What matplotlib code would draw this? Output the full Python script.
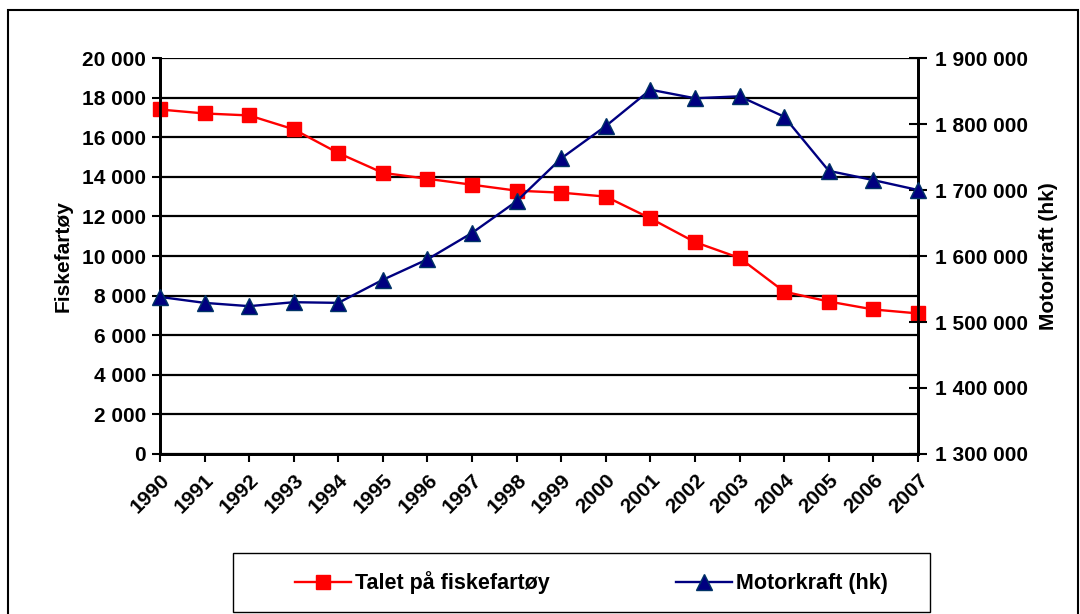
"""Fiskefartøy og motorkraft, 1990-2007."""
import matplotlib

matplotlib.use("Agg")
import matplotlib.pyplot as plt
from matplotlib.patches import Rectangle
from matplotlib.ticker import FuncFormatter, MultipleLocator

years = [str(y) for y in range(1990, 2008)]
vessels = [17400, 17200, 17100, 16400, 15200, 14200, 13900, 13600, 13300,
           13200, 13000, 11900, 10700, 9900, 8200, 7700, 7300, 7100]
horsepower = [1538000, 1529000, 1524000, 1530000, 1529000, 1564000, 1595000,
              1635000, 1683000, 1748000, 1797000, 1852000, 1839000, 1842000,
              1811000, 1729000, 1715000, 1700000]

FS = 15

plt.rcParams.update({
    "font.family": ["Liberation Sans", "DejaVu Sans"],
    "font.weight": "bold",
    "font.size": FS,
})


def space_thousands(v, _pos):
    return f"{int(round(v)):,}".replace(",", " ")


fig = plt.figure(figsize=(10.8, 6.14), dpi=100)
ax = fig.add_axes([0.1481, 0.2606, 0.7019, 0.6449])
ax2 = ax.twinx()

x = list(range(len(years)))
l1, = ax.plot(x, vessels, color="#ff0000", linewidth=1.7, marker="s",
              markersize=10.5, markerfacecolor="#ff0000", markeredgecolor="#ff0000",
              label="Talet på fiskefartøy", zorder=3, clip_on=False)
l2, = ax2.plot(x, horsepower, color="#000080", linewidth=1.7, marker="^",
               markersize=11, markerfacecolor="#000080", markeredgecolor="#003366",
               label="Motorkraft (hk)", zorder=3, clip_on=False)

ax.set_xlim(0, len(years) - 1)
ax.set_ylim(0, 20000)
ax.yaxis.set_major_locator(MultipleLocator(2000))
ax.yaxis.set_major_formatter(FuncFormatter(space_thousands))
ax.grid(axis="y", color="black", linewidth=1.6)
ax.set_axisbelow(True)
ax.set_xticks(x)
ax.set_xticklabels(years, rotation=45, ha="right", rotation_mode="anchor")
ax.tick_params(axis="x", length=6, width=1.5, pad=6)
ax.tick_params(axis="y", length=6, width=1.5, pad=4)
ax.set_ylabel("Fiskefartøy", fontweight="bold", fontsize=FS, labelpad=7)

ax2.set_ylim(1300000, 1900000)
ax2.yaxis.set_major_locator(MultipleLocator(100000))
ax2.yaxis.set_major_formatter(FuncFormatter(space_thousands))
ax2.tick_params(axis="y", direction="inout", length=13, width=1.5, pad=6)
ax2.set_ylabel("Motorkraft (hk)", fontweight="bold", fontsize=FS, labelpad=8)

for a in (ax, ax2):
    for side in ("left", "right", "bottom"):
        a.spines[side].set_color("black")
        a.spines[side].set_linewidth(2)
    a.spines["top"].set_visible(False)

# legend box drawn separately so the entries can sit centred inside it
fig.patches.append(Rectangle((233 / 1080, 2 / 614), 697 / 1080, 59 / 614,
                             transform=fig.transFigure, fill=False,
                             edgecolor="black", linewidth=1.0))
fig.legend(handles=[l1, l2], loc="center", ncol=2,
           bbox_to_anchor=(0.5477, 0.051), frameon=False,
           handlelength=2.6, handletextpad=0.15, columnspacing=5.9,
           prop={"weight": "bold", "size": 15.5})

fig.patches.append(Rectangle((0.0074, -0.01), 0.9907, 0.994, transform=fig.transFigure,
                             fill=False, edgecolor="black", linewidth=1.5))

fig.savefig("out.png", dpi=100)
